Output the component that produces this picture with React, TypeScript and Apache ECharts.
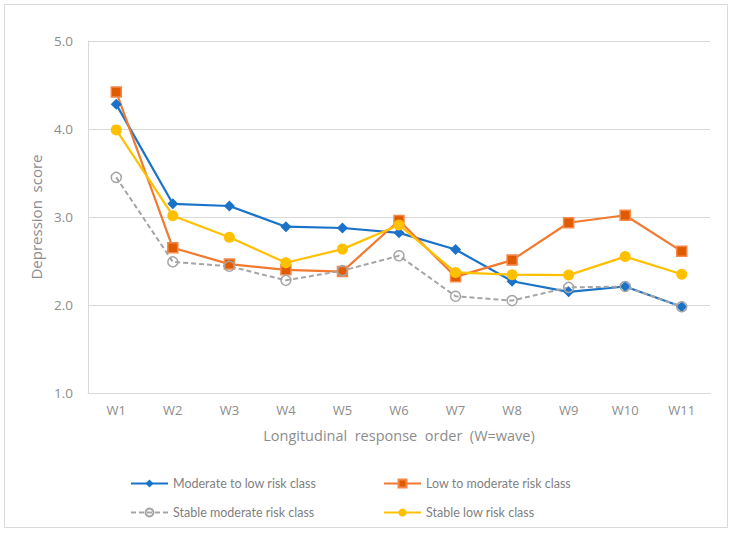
import React, { useEffect, useRef } from "react";
import * as echarts from "echarts";

const categories = ["W1", "W2", "W3", "W4", "W5", "W6", "W7", "W8", "W9", "W10", "W11"];
const moderateToLow = [4.28, 3.15, 3.125, 2.89, 2.875, 2.82, 2.63, 2.27, 2.15, 2.21, 1.98];
const lowToModerate = [4.42, 2.65, 2.465, 2.4, 2.38, 2.96, 2.32, 2.51, 2.935, 3.02, 2.61];
const stableModerate = [3.45, 2.49, 2.44, 2.28, 2.39, 2.56, 2.1, 2.05, 2.2, 2.21, 1.98];
const stableLow = [3.99, 3.015, 2.77, 2.48, 2.635, 2.91, 2.37, 2.345, 2.34, 2.55, 2.35];
const seriesNames = [
  "Moderate to low risk class",
  "Low to moderate risk class",
  "Stable moderate risk class",
  "Stable low risk class",
];

const FONT = "'Open Sans', 'Noto Sans', sans-serif";
const LEGEND_FONT = "Lato, 'Open Sans', sans-serif";

export default function App() {
  const ref = useRef<HTMLDivElement>(null);
  useEffect(() => {
    document.body.style.margin = "0";
    const chart = echarts.init(ref.current!, null, { renderer: "svg" });
    const legendText = { color: "#7f7f7f", fontSize: 12.5, fontFamily: LEGEND_FONT };
    const mkLegend = (name: string, left: number, top: number) => ({
      data: [name],
      left,
      top,
      itemWidth: 37,
      itemHeight: 10,
      itemGap: 0,
      textStyle: legendText,
      padding: 0,
    });
    chart.setOption({
      animation: false,
      backgroundColor: "#ffffff",
      textStyle: { fontFamily: FONT },
      grid: { left: 88, right: 23, top: 41, bottom: 142 },
      legend: [
        mkLegend(seriesNames[0], 130, 477),
        mkLegend(seriesNames[1], 383, 477),
        mkLegend(seriesNames[2], 130, 506),
        mkLegend(seriesNames[3], 383, 506),
      ],
      graphic: [
        {
          type: "rect",
          shape: { x: 4.5, y: 4.5, width: 723, height: 523 },
          style: { fill: "none", stroke: "#d9d9d9", lineWidth: 1 },
          silent: true,
        },
      ],
      xAxis: {
        type: "category",
        data: categories,
        boundaryGap: true,
        axisLine: { show: true, lineStyle: { color: "#d9d9d9", width: 1 } },
        axisTick: { show: false },
        axisLabel: { color: "#8c8c8c", fontSize: 13, margin: 10, fontFamily: FONT },
        name: "Longitudinal  response  order  (W=wave)",
        nameLocation: "middle",
        nameGap: 35,
        nameMoveOverlap: false,
        nameTextStyle: { color: "#8c8c8c", fontSize: 14.5, fontFamily: FONT },
      },
      yAxis: {
        type: "value",
        min: 1,
        max: 5,
        interval: 1,
        axisLine: { show: true, lineStyle: { color: "#d9d9d9", width: 1 } },
        axisTick: { show: false },
        splitLine: { lineStyle: { color: "#d9d9d9", width: 1 } },
        axisLabel: {
          color: "#8c8c8c",
          fontSize: 13.5,
          margin: 15,
          fontFamily: FONT,
          formatter: (v: number) => v.toFixed(1),
        },
        name: "Depression  score",
        nameLocation: "middle",
        nameGap: 45,
        nameRotate: 90,
        nameMoveOverlap: false,
        nameTextStyle: { color: "#8c8c8c", fontSize: 15, fontFamily: FONT },
      },
      series: [
        {
          name: seriesNames[0],
          type: "line",
          data: moderateToLow,
          symbol: "diamond",
          symbolSize: 11,
          color: "#1a73c9",
          lineStyle: { color: "#1a73c9", width: 2.2 },
          itemStyle: { color: "#1a73c9" },
        },
        {
          name: seriesNames[1],
          type: "line",
          data: lowToModerate,
          symbol: "rect",
          symbolSize: 10,
          color: "#ed7d31",
          lineStyle: { color: "#f07a30", width: 2.2 },
          itemStyle: { color: "#e05a00", borderColor: "#f4894a", borderWidth: 1.5 },
        },
        {
          name: seriesNames[2],
          type: "line",
          data: stableModerate,
          symbol: "circle",
          symbolSize: 10,
          color: "#a5a5a5",
          lineStyle: { color: "#a5a5a5", width: 2, type: [5, 3] },
          itemStyle: { color: "transparent", borderColor: "#a5a5a5", borderWidth: 1.5 },
        },
        {
          name: seriesNames[3],
          type: "line",
          data: stableLow,
          symbol: "circle",
          symbolSize: 11,
          color: "#ffc000",
          lineStyle: { color: "#ffc000", width: 2.2 },
          itemStyle: { color: "#ffc000" },
        },
      ],
    });
    return () => chart.dispose();
  }, []);
  return <div ref={ref} style={{ width: 733, height: 535 }} />;
}
